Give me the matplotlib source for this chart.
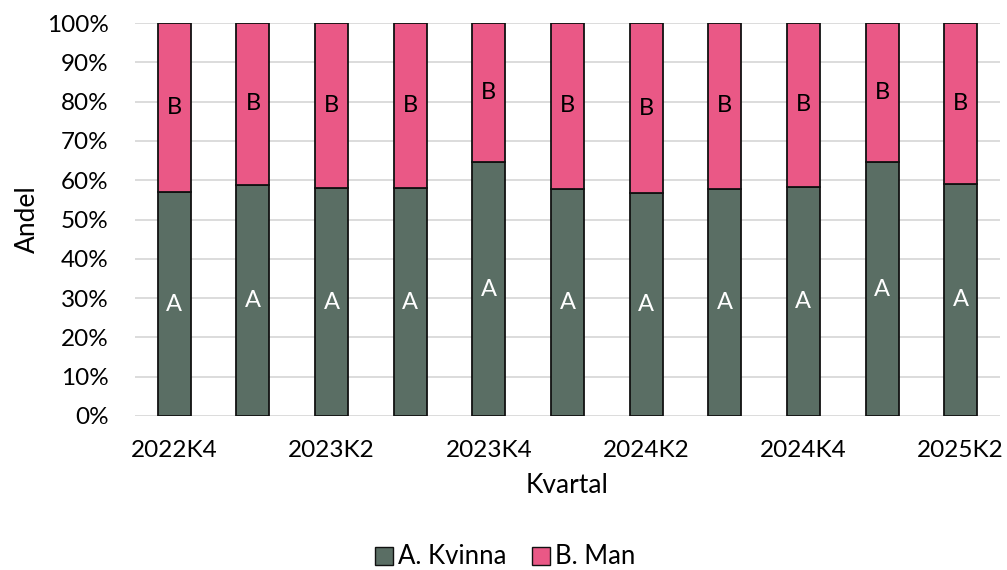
import matplotlib
matplotlib.use("Agg")
import matplotlib.pyplot as plt
import numpy as np

categories = ["2022K4", "2023K1", "2023K2", "2023K3", "2023K4", "2024K1",
              "2024K2", "2024K3", "2024K4", "2025K1", "2025K2"]
kvinna = [56.9, 58.9, 57.9, 57.9, 64.6, 57.8, 56.7, 57.8, 58.3, 64.6, 59.1]
man = [100 - v for v in kvinna]
series_names = ["A. Kvinna", "B. Man"]
ytick_vals = list(range(0, 101, 10))

plt.rcParams['font.family'] = ['Lato', 'DejaVu Sans']

col_a = "#5A6E64"
col_b = "#EA5886"

fig = plt.figure(figsize=(10.07, 5.70), dpi=100)
ax = fig.add_axes([135/1007, 1 - 416/570, (1000-135)/1007, (416-23)/570])

x = np.arange(len(categories))
w = 0.42
ka = np.array(kvinna) / 100
mb = np.array(man) / 100
ax.bar(x, ka, w, color=col_a, edgecolor="#111111", linewidth=1.3, label=series_names[0], zorder=3)
ax.bar(x, mb, w, bottom=ka, color=col_b, edgecolor="#111111", linewidth=1.3, label=series_names[1], zorder=3)

for i in range(len(x)):
    ax.text(x[i], ka[i] / 2, "A", ha="center", va="center", color="white", fontsize=17, zorder=4)
    ax.text(x[i], ka[i] + mb[i] / 2, "B", ha="center", va="center", color="black", fontsize=17, zorder=4)

ax.set_xlim(-0.5, len(categories) - 0.5)
ax.set_ylim(0, 1)
ax.set_yticks([v / 100 for v in ytick_vals])
ax.set_yticklabels([f"{v}%" for v in ytick_vals])
ax.set_xticks(x[::2])
ax.set_xticklabels(categories[::2])
ax.tick_params(axis="y", length=0, pad=19, labelsize=17.5)
ax.tick_params(axis="x", length=0, pad=17, labelsize=17.5)
ax.yaxis.grid(True, color="#d9d9d9", linewidth=1.3, zorder=0)
ax.set_axisbelow(True)
for s in ["top", "right", "left", "bottom"]:
    ax.spines[s].set_visible(False)

ax.set_ylabel("Andel", fontsize=19, labelpad=5)
ax.set_xlabel("Kvartal", fontsize=19, labelpad=9)

handles = [plt.Rectangle((0, 0), 1, 1, facecolor=col_a, edgecolor="#111111", linewidth=1.0),
           plt.Rectangle((0, 0), 1, 1, facecolor=col_b, edgecolor="#111111", linewidth=1.0)]
fig.legend(handles, series_names, loc="center", bbox_to_anchor=(505/1007, 1 - 557/570),
           ncol=2, frameon=False, fontsize=18.5, handlelength=0.7, handleheight=0.7,
           handletextpad=0.2, columnspacing=1.0)

fig.savefig("out.png", dpi=100)
